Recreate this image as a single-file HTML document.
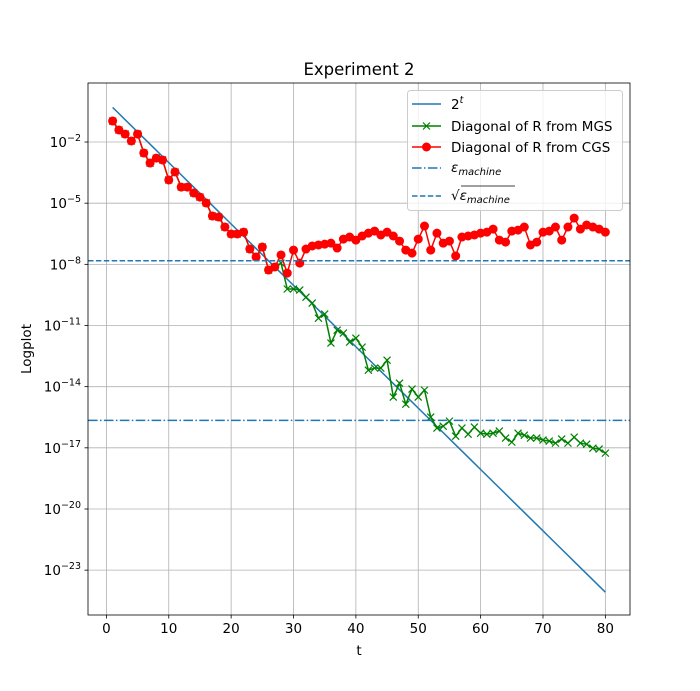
<!DOCTYPE html>
<html><head><meta charset="utf-8"><style>
body{margin:0;background:#fff}
svg{display:block;font-family:"DejaVu Sans","Liberation Sans",sans-serif}
</style></head><body>
<svg id="chart" width="700" height="691" viewBox="0 0 700 691">
<rect width="700" height="691" fill="#fff"/>
<g id="grid"></g>
<g id="series"></g>
<g id="axes"></g>
</svg>
<script>
const tValues = Array.from({length:80},(_,i)=>i+1);
const cgsLog = [-0.97,-1.41,-1.61,-1.95,-1.61,-2.54,-3.03,-2.79,-2.88,-3.86,-3.47,-4.21,-4.21,-4.50,-4.70,-4.99,-5.63,-5.68,-6.17,-6.51,-6.51,-6.42,-7.25,-7.64,-7.15,-8.28,-8.13,-7.54,-8.43,-7.30,-7.94,-7.25,-7.10,-7.05,-7.01,-6.96,-7.20,-6.76,-6.66,-6.81,-6.61,-6.47,-6.37,-6.56,-6.42,-6.61,-6.86,-7.30,-7.45,-6.76,-6.12,-7.30,-6.47,-6.96,-6.86,-7.59,-6.66,-6.61,-6.56,-6.47,-6.42,-6.27,-6.81,-6.91,-6.37,-6.32,-6.17,-7.05,-6.91,-6.42,-6.37,-6.17,-6.81,-6.17,-5.73,-6.27,-6.07,-6.17,-6.27,-6.42];
const mgsTail = [-9.21,-9.21,-9.26,-9.61,-9.90,-10.64,-10.44,-11.86,-11.23,-11.37,-11.81,-11.62,-12.06,-13.19,-13.09,-13.09,-12.70,-14.51,-13.83,-14.86,-14.12,-14.51,-14.17,-15.49,-16.03,-15.94,-15.69,-16.43,-16.03,-16.33,-15.98,-16.28,-16.33,-16.28,-16.18,-16.52,-16.72,-16.28,-16.38,-16.52,-16.52,-16.62,-16.67,-16.77,-16.57,-16.77,-16.48,-16.77,-16.82,-17.02,-17.06,-17.26];
const mgsLog = cgsLog.slice(0,26).concat([-8.13,-7.94]).concat(mgsTail);
const epsMachine = 2.220446e-16;
const xTicks = [0,10,20,30,40,50,60,70,80];
const yTickExps = [-2,-5,-8,-11,-14,-17,-20,-23];

const NS='http://www.w3.org/2000/svg';
const L=88,R=630,T=83,B=615;
const xmin=-2.95,xmax=83.95,ymaxL=0.895,yminL=-25.2;
const X=v=>L+(v-xmin)/(xmax-xmin)*(R-L);
const Y=lg=>T+(ymaxL-lg)/(ymaxL-yminL)*(B-T);
function el(tag,attrs,parent){const e=document.createElementNS(NS,tag);for(const k in attrs)e.setAttribute(k,attrs[k]);parent.appendChild(e);return e;}
const grid=document.getElementById('grid'),series=document.getElementById('series'),axes=document.getElementById('axes');

xTicks.forEach(v=>{
  const g=el('line',{x1:X(v),x2:X(v),y1:T,y2:B,stroke:'#b0b0b0','stroke-width':0.8},grid);
  
  
  el('line',{x1:X(v),x2:X(v),y1:B,y2:B+3.5,stroke:'#000','stroke-width':0.8},axes);
  const t=el('text',{x:X(v),y:B+18,'text-anchor':'middle','font-size':13.5},axes);
  t.textContent=v;
  
  
});
yTickExps.forEach(e=>{
  const g=el('line',{x1:L,x2:R,y1:Y(e),y2:Y(e),stroke:'#b0b0b0','stroke-width':0.8},grid);
  
  
  el('line',{x1:L-3.5,x2:L,y1:Y(e),y2:Y(e),stroke:'#000','stroke-width':0.8},axes);
  const t=el('text',{x:L-7,y:Y(e)+5,'text-anchor':'end','font-size':13.5},axes);
  t.innerHTML='10<tspan dy="-6" font-size="9.5">\u2212'+Math.abs(e)+'</tspan>';
  
  
});

// 2^-t line
const pw=el('polyline',{points:tValues.map(t=>X(t)+','+Y(-t*Math.log10(2))).join(' '),fill:'none',stroke:'#1f77b4','stroke-width':1.5},series);


// MGS
const mg=el('polyline',{points:tValues.map((t,i)=>X(t)+','+Y(mgsLog[i])).join(' '),fill:'none',stroke:'green','stroke-width':1.5},series);


tValues.forEach((t,i)=>{const x=X(t),y=Y(mgsLog[i]),s=3.5;
  const m=el('path',{d:`M${x-s},${y-s}L${x+s},${y+s}M${x-s},${y+s}L${x+s},${y-s}`,stroke:'green','stroke-width':1.2},series);
  
  
});
// CGS
const cg=el('polyline',{points:tValues.map((t,i)=>X(t)+','+Y(cgsLog[i])).join(' '),fill:'none',stroke:'red','stroke-width':1.5},series);


tValues.forEach((t,i)=>{
  const c=el('circle',{cx:X(t),cy:Y(cgsLog[i]),r:4.5,fill:'red'},series);
  
  
});
// eps lines
const ey=Y(Math.log10(epsMachine)),sy=Y(Math.log10(Math.sqrt(epsMachine)));
const e1=el('line',{x1:L,x2:R,y1:ey,y2:ey,stroke:'#1f77b4','stroke-width':1.5,'stroke-dasharray':'9.6,2.4,1.5,2.4'},series);


const e2=el('line',{x1:L,x2:R,y1:sy,y2:sy,stroke:'#1f77b4','stroke-width':1.5,'stroke-dasharray':'5.5,2.4'},series);



const fr=el('rect',{x:L,y:T,width:R-L,height:B-T,fill:'none',stroke:'#000','stroke-width':0.8},axes);


</script>
<svg style="position:absolute;left:0;top:0" width="700" height="691">
<text x="359" y="75" text-anchor="middle" font-size="16.5" font-family="DejaVu Sans, sans-serif">Experiment 2</text>
<text x="359" y="655" text-anchor="middle" font-size="13.5" font-family="DejaVu Sans, sans-serif">t</text>
<text transform="translate(31,349) rotate(-90)" text-anchor="middle" font-size="13.5" font-family="DejaVu Sans, sans-serif">Logplot</text>
<g font-family="DejaVu Sans, sans-serif" font-size="13.5">
<rect x="407.5" y="90.5" width="215" height="120" rx="3" fill="#fff" fill-opacity="0.8" stroke="#ccc"/>
<line x1="412" x2="441" y1="104" y2="104" stroke="#1f77b4" stroke-width="1.5"/>
<text x="451" y="109">2<tspan dy="-6" font-size="9.5" font-style="italic">t</tspan></text>
<line x1="412" x2="441" y1="126" y2="126" stroke="green" stroke-width="1.5"/>
<path d="M423,122.5L430,129.5M423,129.5L430,122.5" stroke="green" stroke-width="1.2"/>
<text x="451" y="131">Diagonal of R from MGS</text>
<line x1="412" x2="441" y1="147" y2="147" stroke="red" stroke-width="1.5"/>
<circle cx="426.5" cy="147" r="4.5" fill="red"/>
<text x="451" y="152">Diagonal of R from CGS</text>
<line x1="412" x2="441" y1="168" y2="168" stroke="#1f77b4" stroke-width="1.5" stroke-dasharray="9.6,2.4,1.5,2.4"/>
<text x="451" y="172" font-style="italic">ε<tspan dy="3" font-size="10">machine</tspan></text>
<line x1="412" x2="441" y1="196" y2="196" stroke="#1f77b4" stroke-width="1.5" stroke-dasharray="5.5,2.4"/>
<text x="451" y="200">√<tspan font-style="italic">ε</tspan><tspan dy="3" font-size="10" font-style="italic">machine</tspan></text>
<line x1="461" x2="515" y1="186" y2="186" stroke="#000" stroke-width="0.8"/>
</g>
</svg>
</body></html>
